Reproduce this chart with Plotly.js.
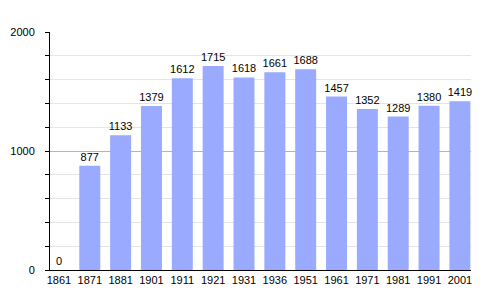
<!DOCTYPE html>
<html>
<head>
<meta charset="utf-8">
<script src="https://cdn.plot.ly/plotly-3.0.1.min.js"></script>
<style>html,body{margin:0;padding:0;background:#fff;}#chart{width:500px;height:300px;}</style>
</head>
<body>
<div id="chart"></div>
<script>
const years = ["1861","1871","1881","1901","1911","1921","1931","1936","1951","1961","1971","1981","1991","2001"];
const population = [0, 877, 1133, 1379, 1612, 1715, 1618, 1661, 1688, 1457, 1352, 1289, 1380, 1419];
const yTicks = [0, 1000, 2000];

const trace = {
  type: 'bar',
  x: years,
  y: population,
  text: population.map(String),
  textposition: 'outside',
  constraintext: 'none',
  cliponaxis: false,
  textfont: {family: 'Liberation Sans, Arial, sans-serif', size: 11, color: '#000'},
  marker: {color: '#99aaff', line: {width: 0}},
  hoverinfo: 'none'
};

const layout = {
  width: 500, height: 300,
  margin: {l: 50, r: 29, t: 32, b: 30},
  paper_bgcolor: '#fff', plot_bgcolor: '#fff',
  showlegend: false,
  bargap: 0.32,
  font: {family: 'Liberation Sans, Arial, sans-serif', size: 11, color: '#000'},
  xaxis: {
    type: 'category',
    range: [-0.29, 13.36],
    showline: true, linecolor: '#000', linewidth: 1,
    ticks: '', showgrid: false, zeroline: false,
    tickfont: {size: 11, color: '#000'}
  },
  yaxis: {
    range: [0, 2000],
    tickvals: yTicks,
    ticktext: yTicks.map(String),
    showline: true, linecolor: '#000', linewidth: 1,
    ticks: 'outside', ticklen: 4, tickcolor: '#000',
    ticklabelstandoff: 8,
    showgrid: true, gridcolor: '#b4b4b4', gridwidth: 1,
    zeroline: false,
    tickfont: {size: 11, color: '#000'},
    minor: {dtick: 200, tick0: 0, ticks: 'outside', ticklen: 4, tickcolor: '#000', showgrid: true, gridcolor: '#e4e4e4', gridwidth: 1}
  }
};

Plotly.newPlot('chart', [trace], layout, {staticPlot: true, displayModeBar: false});
</script>
</body>
</html>
